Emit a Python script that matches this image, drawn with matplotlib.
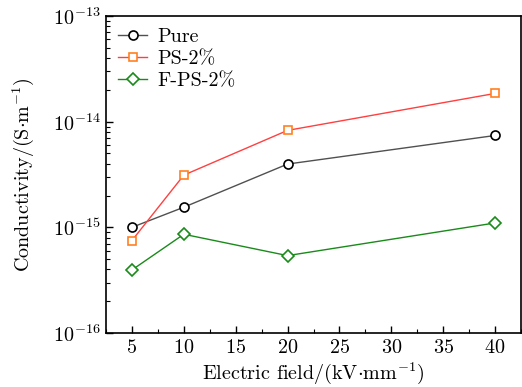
import matplotlib
matplotlib.use("Agg")
import matplotlib.pyplot as plt
from matplotlib.ticker import MultipleLocator, LogLocator, NullFormatter

plt.rcParams['font.family'] = 'serif'
plt.rcParams['font.serif'] = ['cmr10', 'DejaVu Serif']
plt.rcParams['mathtext.fontset'] = 'cm'
plt.rcParams['axes.formatter.use_mathtext'] = True
plt.rcParams['font.size'] = 14.5

field = [5, 10, 20, 40]
pure = [1.0e-15, 1.55e-15, 3.97e-15, 7.4e-15]
ps2 = [7.5e-16, 3.12e-15, 8.27e-15, 1.85e-14]
fps2 = [3.95e-16, 8.6e-16, 5.4e-16, 1.1e-15]
yticks = [1e-16, 1e-15, 1e-14, 1e-13]

fig = plt.figure(figsize=(5.22, 3.87), dpi=100)
ax = fig.add_axes([106 / 522, 1 - 333 / 387, 415 / 522, 317 / 387])

ax.plot(field, pure, '-o', color='#505050', mec='black', mfc='white',
        ms=6.5, lw=1, mew=1.2, label='Pure')
ax.plot(field, ps2, '-s', color='#ff4040', mec='#ff8020', mfc='white',
        ms=5.5, lw=1, mew=1.2, label='PS-2%')
ax.plot(field, fps2, '-D', color='#1a8a1a', mec='#1a8a1a', mfc='white',
        ms=6, lw=1, mew=1.2, label='F-PS-2%')

ax.set_yscale('log')
ax.set_yticks(yticks)
ax.set_ylim(1e-16, 1e-13)
ax.set_xlim(2.5, 42.5)
ax.xaxis.set_major_locator(MultipleLocator(5))
ax.xaxis.set_minor_locator(MultipleLocator(2.5))
ax.yaxis.set_minor_locator(LogLocator(base=10, subs=range(2, 10), numticks=10))
ax.yaxis.set_minor_formatter(NullFormatter())
ax.tick_params(which='both', direction='in', top=False, right=False)
ax.tick_params(which='major', length=5, width=1, pad=4)
ax.tick_params(which='minor', length=3, width=0.8)
for s in ax.spines.values():
    s.set_linewidth(1.2)

ax.set_xlabel(r'Electric field/(kV$\cdot$mm$^{-1}$)', labelpad=3)
ax.set_ylabel(r'Conductivity/(S$\cdot$m$^{-1}$)', labelpad=12)
ax.legend(loc='upper left', frameon=False, handlelength=1.45, borderaxespad=0.2,
          labelspacing=0.2, handletextpad=0.5)

fig.savefig('out.png', dpi=100)
